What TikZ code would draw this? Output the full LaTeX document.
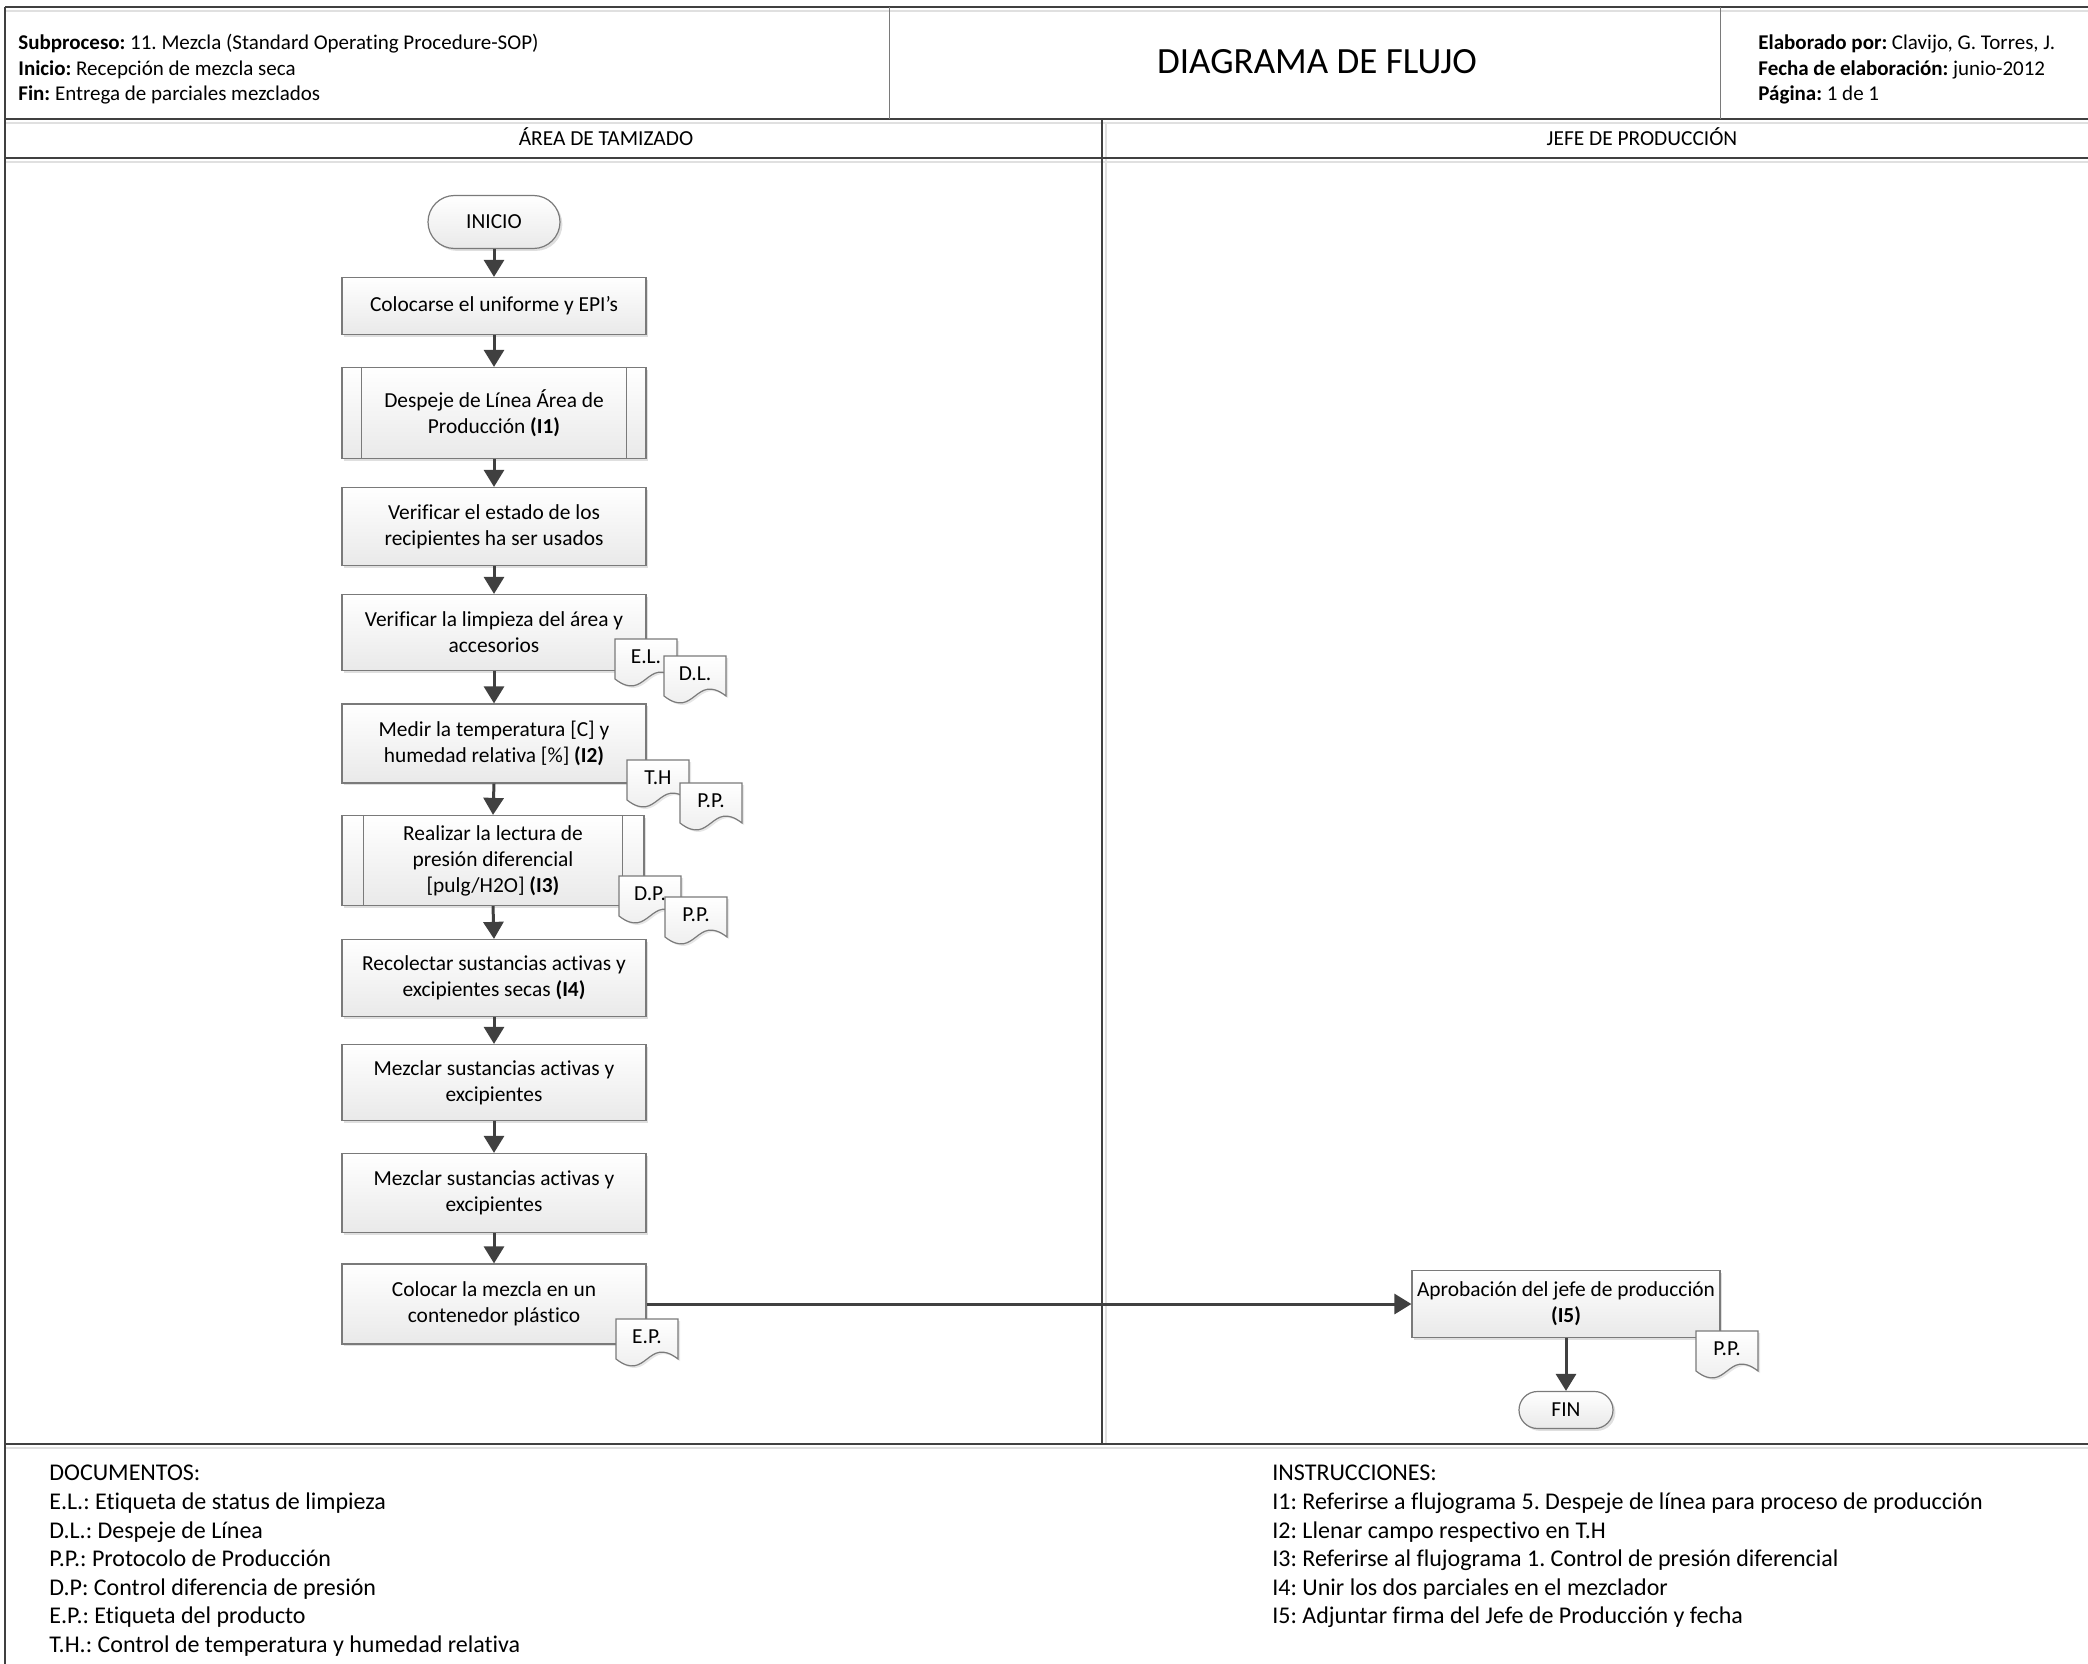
\documentclass[tikz,border=0pt]{standalone}
\usepackage{fontspec}
\setmainfont{Carlito}[Ligatures=NoCommon]
\usetikzlibrary{arrows.meta,shapes.misc,shadows}
\frenchspacing

\definecolor{ink}{HTML}{404040}
\definecolor{rim}{HTML}{7A7A7A}
\definecolor{paper}{HTML}{E9E9E9}

\newcommand{\stepfont}{\fontsize{10.7}{13}\selectfont}
\newcommand{\hdrfont}{\fontsize{10.5}{12.6}\selectfont}
\newcommand{\legfont}{\fontsize{12}{14.3}\selectfont}
\newcommand{\ttlfont}{\fontsize{18.5}{22}\selectfont}

% document symbol: sheet with a wavy foot, label node named #1
\newcommand{\docsheet}[4]{%
  \begin{scope}[shift={(#2,#3)}]
    \draw[sheet] (0,0) -- (62,0) -- (62,40)
      .. controls (31,16) and (31,64) .. (0,40) -- cycle;
    \node[sheetlbl] (#1) at (31,18) {#4};
  \end{scope}}

\begin{document}
\begin{tikzpicture}[x=0.5pt, y=-0.5pt,
  frame/.style    = {ink, line width=1.2pt},
  glow/.style     = {black!12, line width=1pt},
  rule/.style     = {rim, line width=0.5pt},
  proc/.style     = {draw=rim, line width=0.6pt, top color=white, bottom color=paper,
                     drop shadow={shadow xshift=1.2pt, shadow yshift=-1.2pt, opacity=0.25},
                     minimum width=152pt, align=center, font=\stepfont, inner sep=2pt},
  term/.style     = {proc, rounded rectangle, minimum width=70pt, minimum height=26.5pt},
  sheet/.style    = {draw=rim, line width=0.6pt, top color=white, bottom color=paper,
                     drop shadow={shadow xshift=1pt, shadow yshift=-1pt, opacity=0.2}},
  sheetlbl/.style = {font=\stepfont, inner sep=0pt},
  bar/.style      = {rim, line width=0.6pt},
  flow/.style     = {ink, line width=1.5pt, -{Triangle[length=8.5pt,width=10pt]}},
  lane/.style     = {font=\stepfont},
  head/.style     = {font=\hdrfont, anchor=west, inner sep=0pt},
  legend/.style   = {font=\legfont, align=left, anchor=north west, inner sep=0pt},
]
  \useasboundingbox (0,0) rectangle (2088,1664);

  % frame, header and lanes
  \draw[glow] (5,11) -- (2088,11);
  \draw[glow] (5,123) -- (2088,123);
  \draw[glow] (5,162) -- (2088,162);
  \draw[glow] (5,1448) -- (2088,1448);
  \draw[glow] (1106,123) -- (1106,1444);
  \draw[frame] (5,7) -- (2088,7);
  \draw[frame] (5,119) -- (2088,119);
  \draw[frame] (5,158) -- (2088,158);
  \draw[frame] (5,1444) -- (2088,1444);
  \draw[frame] (5,7) -- (5,1664);
  \draw[frame] (1102,119) -- (1102,1444);
  \draw[rule] (889,7) -- (889,119);
  \draw[rule] (1720,7) -- (1720,119);

  \node[head] (hsub) at (18,44) {\textbf{Subproceso:} 11. Mezcla (Standard Operating Procedure-SOP)};
  \node[head] (hini) at (18,70) {\textbf{Inicio:} Recepción de mezcla seca};
  \node[head] (hfin) at (18,95) {\textbf{Fin:} Entrega de parciales mezclados};
  \node[font=\ttlfont] (title) at (1317,61.5) {DIAGRAMA DE FLUJO};
  \node[head] (hby)   at (1758,44) {\textbf{Elaborado por:} Clavijo, G. Torres, J.};
  \node[head] (hdate) at (1758,70) {\textbf{Fecha de elaboración:} junio-2012};
  \node[head] (hpage) at (1758,95) {\textbf{Página:} 1 de 1};

  \node[lane] (lane1) at (606,137) {ÁREA DE TAMIZADO};
  \node[lane] (lane2) at (1642,137) {JEFE DE PRODUCCIÓN};

  % steps
  \node[term] (inicio) at (494,222) {INICIO};
  \node[proc, minimum height=28.5pt] (b1) at (494,306) {Colocarse el uniforme y EPI’s};
  \node[proc, minimum height=45.5pt] (b2) at (494,413) {Despeje de Línea Área de\\Producción \textbf{(I1)}};
  \node[proc, minimum height=39pt] (b3) at (494,526.5) {Verificar el estado de los\\recipientes ha ser usados};
  \node[proc, minimum height=38pt] (b4) at (494,632.5) {Verificar la limpieza del área y\\accesorios};
  \node[proc, minimum height=39.5pt] (b5) at (494,743.5) {Medir la temperatura [C] y\\humedad relativa [\%] \textbf{(I2)}};
  \node[proc, minimum height=45pt, minimum width=151pt] (b6) at (493,860.5) {Realizar la lectura de\\presión diferencial\\{[}pulg/H2O{]} \textbf{(I3)}};
  \node[proc, minimum height=38.5pt] (b7) at (494,978) {Recolectar sustancias activas y\\excipientes secas \textbf{(I4)}};
  \node[proc, minimum height=38pt] (b8) at (494,1082.5) {Mezclar sustancias activas y\\excipientes};
  \node[proc, minimum height=39.5pt] (b9) at (494,1193) {Mezclar sustancias activas y\\excipientes};
  \node[proc, minimum height=40pt] (b10) at (494,1304) {Colocar la mezcla en un\\contenedor plástico};
  \node[proc, minimum height=33.5pt, minimum width=154pt] (b11) at (1566,1304) {Aprobación del jefe de producción\\\textbf{(I5)}};
  \node[term, minimum width=51pt, minimum height=18.5pt] (fin) at (1566,1410) {FIN};

  % side bars of the predefined processes
  \draw[bar] ([xshift=10pt]b2.north west) -- ([xshift=10pt]b2.south west);
  \draw[bar] ([xshift=-10pt]b2.north east) -- ([xshift=-10pt]b2.south east);
  \draw[bar] ([xshift=11pt]b6.north west) -- ([xshift=11pt]b6.south west);
  \draw[bar] ([xshift=-11pt]b6.north east) -- ([xshift=-11pt]b6.south east);

  \draw[flow] (inicio.south) -- (b1.north);
  \draw[flow] (b1.south) -- (b2.north);
  \draw[flow] (b2.south) -- (b3.north);
  \draw[flow] (b3.south) -- (b4.north);
  \draw[flow] (b4.south) -- (b5.north);
  \draw[flow] (b5.south) -- (b6.north);
  \draw[flow] (b6.south) -- (b7.north);
  \draw[flow] (b7.south) -- (b8.north);
  \draw[flow] (b8.south) -- (b9.north);
  \draw[flow] (b9.south) -- (b10.north);
  \draw[flow] (b10.east) -- (b11.west);
  \draw[flow] (b11.south) -- (fin.north);

  % documents
  \docsheet{el}{615}{639}{E.L.}
  \docsheet{dl}{664}{656}{D.L.}
  \docsheet{th}{627}{760}{T.H}
  \docsheet{ppa}{680}{783}{P.P.}
  \docsheet{dp}{619}{876}{D.P.}
  \docsheet{ppb}{665}{897}{P.P.}
  \docsheet{ep}{616}{1319}{E.P.}
  \docsheet{ppc}{1696}{1331}{P.P.}

  % legends
  \node[legend] (docs) at (49,1465) {DOCUMENTOS:\\E.L.: Etiqueta de status de limpieza\\D.L.: Despeje de Línea\\P.P.: Protocolo de Producción\\D.P: Control diferencia de presión\\E.P.: Etiqueta del producto\\T.H.: Control de temperatura y humedad relativa};
  \node[legend] (instr) at (1272,1465) {INSTRUCCIONES:\\I1: Referirse a flujograma 5. Despeje de línea para proceso de producción\\I2: Llenar campo respectivo en T.H\\I3: Referirse al flujograma 1. Control de presión diferencial\\I4: Unir los dos parciales en el mezclador\\I5: Adjuntar firma del Jefe de Producción y fecha};
\end{tikzpicture}
\end{document}
